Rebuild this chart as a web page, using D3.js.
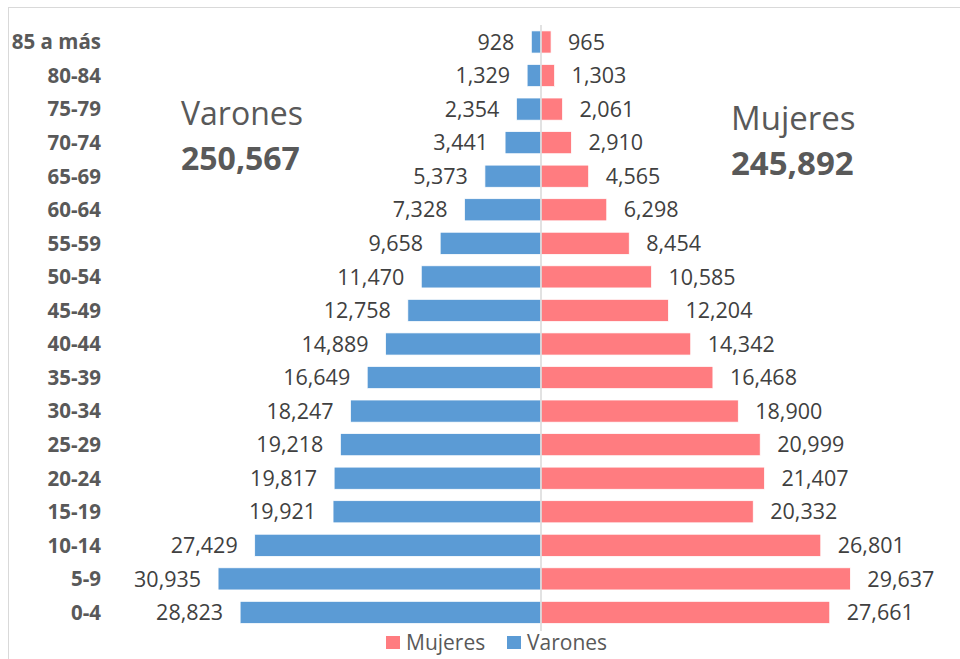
<!DOCTYPE html>
<html><head><meta charset="utf-8">
<script src="https://cdn.jsdelivr.net/npm/d3@7"></script>
<style>body{margin:0;background:#fff;}svg{display:block;font-family:"Open Sans",sans-serif;}</style>
</head><body>
<script>
const categories = ["85 a más","80-84","75-79","70-74","65-69","60-64","55-59","50-54","45-49","40-44","35-39","30-34","25-29","20-24","15-19","10-14","5-9","0-4"];
const varones = [928,1329,2354,3441,5373,7328,9658,11470,12758,14889,16649,18247,19218,19817,19921,27429,30935,28823];
const mujeres = [965,1303,2061,2910,4565,6298,8454,10585,12204,14342,16468,18900,20999,21407,20332,26801,29637,27661];
const totalVarones = "250,567", totalMujeres = "245,892";
const seriesNames = ["Mujeres","Varones"];
const colors = {Mujeres:"#FF7C80", Varones:"#5B9BD5"};

const W=960,H=659;
const svg=d3.select("body").append("svg").attr("width",W).attr("height",H);
svg.append("rect").attr("x",8.5).attr("y",7.5).attr("width",W).attr("height",H).attr("fill","#fff").attr("stroke","#d9d9d9");

const cx=541;
const xL=d3.scaleLinear().domain([0,31000]).range([cx,cx-323.6]);
const xR=d3.scaleLinear().domain([0,31000]).range([cx,cx+323.6]);
const y=d3.scaleBand().domain(categories).range([25.2,629.2]).paddingInner(0.34).paddingOuter(0.17);

const fmt=d3.format(",");
const g=svg.append("g");
categories.forEach((c,i)=>{
  const yy=y(c), bh=y.bandwidth(), mid=yy+bh/2;
  g.append("rect").attr("x",xL(varones[i])).attr("y",yy).attr("width",cx-xL(varones[i])).attr("height",bh)
    .attr("fill",colors.Varones).attr("stroke","#fff").attr("stroke-width",0.75);
  g.append("rect").attr("x",cx).attr("y",yy).attr("width",xR(mujeres[i])-cx).attr("height",bh)
    .attr("fill",colors.Mujeres).attr("stroke","#fff").attr("stroke-width",0.75);
  g.append("text").attr("x",xL(varones[i])-17).attr("y",mid).attr("dy","0.36em").attr("text-anchor","end")
    .attr("font-size",21.5).attr("fill","#404040").text(fmt(varones[i]));
  g.append("text").attr("x",xR(mujeres[i])+17).attr("y",mid).attr("dy","0.36em").attr("text-anchor","start")
    .attr("font-size",21.5).attr("fill","#404040").text(fmt(mujeres[i]));
  g.append("text").attr("x",101).attr("y",mid).attr("dy","0.36em").attr("text-anchor","end")
    .attr("font-size",20.5).attr("font-weight","bold").attr("fill","#595959").text(c);
});
svg.append("line").attr("x1",cx).attr("x2",cx).attr("y1",25).attr("y2",631).attr("stroke","#d9d9d9").attr("stroke-width",1.5);

svg.append("text").attr("x",181).attr("y",125).attr("font-size",32).attr("fill","#595959").text("Varones");
svg.append("text").attr("x",181).attr("y",170).attr("font-size",32).attr("font-weight","bold").attr("fill","#595959").text(totalVarones);
svg.append("text").attr("x",731).attr("y",130).attr("font-size",33).attr("fill","#595959").text("Mujeres");
svg.append("text").attr("x",731).attr("y",175).attr("font-size",33).attr("font-weight","bold").attr("fill","#595959").text(totalMujeres);

const leg=svg.append("g");
const legX={Mujeres:386,Varones:507};
seriesNames.forEach(s=>{
  leg.append("rect").attr("x",legX[s]).attr("y",636).attr("width",14).attr("height",13).attr("fill",colors[s]);
  leg.append("text").attr("x",legX[s]+20).attr("y",642.5).attr("dy","0.36em").attr("font-size",21).attr("fill","#595959").text(s);
});
</script>
</body></html>
